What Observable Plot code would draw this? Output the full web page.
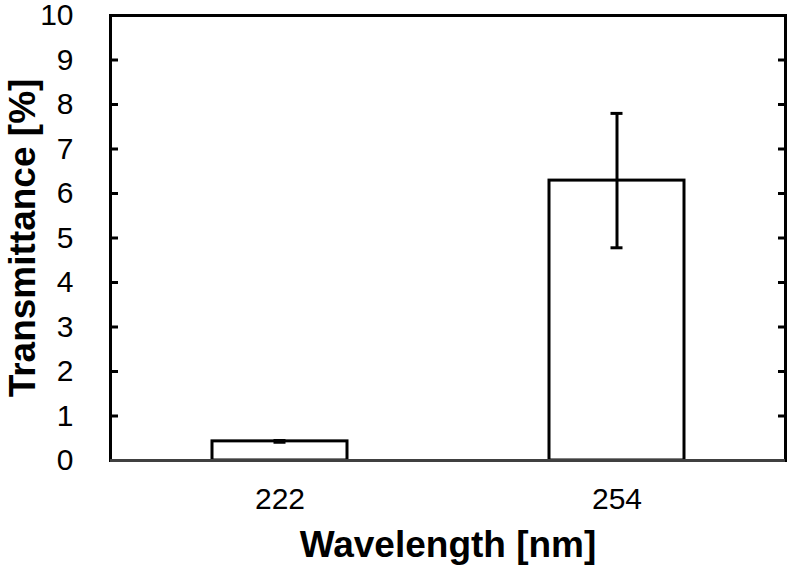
<!DOCTYPE html>
<html>
<head>
<meta charset="utf-8">
<script src="https://cdn.jsdelivr.net/npm/d3@7"></script>
<script src="https://cdn.jsdelivr.net/npm/@observablehq/plot@0.6"></script>
<style>
  html, body { margin: 0; padding: 0; background: #fff; }
  #chart svg { display: block; }
</style>
</head>
<body>
<div id="chart"></div>
<script>
const wavelengths = ["222", "254"];
const transmittance = [0.43, 6.29];
const errors = [0.02, 1.51];
const yTicks = [0, 1, 2, 3, 4, 5, 6, 7, 8, 9, 10];
const xLabel = "Wavelength [nm]";
const yLabel = "Transmittance [%]";

const data = wavelengths.map((w, i) => ({
  w, v: transmittance[i], lo: transmittance[i] - errors[i], hi: transmittance[i] + errors[i]
}));

const font = "Arial, 'Liberation Sans', sans-serif";

const chart = Plot.plot({
  width: 790,
  height: 568,
  marginLeft: 110,
  marginRight: 5,
  marginTop: 15,
  marginBottom: 108,
  style: { fontFamily: font, color: "#000", background: "#fff" },
  x: { domain: wavelengths, paddingInner: 0.6, paddingOuter: 0.3, label: null },
  y: { domain: [0, 10], label: null },
  marks: [
    Plot.barY(data, { x: "w", y: "v", fill: "white", stroke: "black", strokeWidth: 3 }),
    Plot.ruleX(data, { x: "w", y1: "lo", y2: "hi", stroke: "black", strokeWidth: 3 }),
    Plot.tickY(data, { x: "w", y: "lo", stroke: "black", strokeWidth: 3, insetLeft: 61.5, insetRight: 61.5 }),
    Plot.tickY(data, { x: "w", y: "hi", stroke: "black", strokeWidth: 3, insetLeft: 61.5, insetRight: 61.5 }),
    Plot.axisY(yTicks, { anchor: "left", tickSize: 0, tickPadding: 30, dx: -7, fontSize: 30, label: null }),
    Plot.axisY(yTicks, { anchor: "left", tickSize: -8, text: null, strokeWidth: 3, label: null }),
    Plot.axisY(yTicks, { anchor: "right", tickSize: -8, text: null, strokeWidth: 3, label: null }),
    Plot.axisX({ anchor: "bottom", tickSize: 0, tickPadding: 27, fontSize: 30, label: null }),
    Plot.frame({ stroke: "black", strokeWidth: 3 }),
    Plot.ruleY([0], { stroke: "#404040", strokeWidth: 3 }),
    Plot.text([yLabel], { frameAnchor: "left", textAnchor: "middle", rotate: -90, dx: -87, fontSize: 37, fontWeight: "bold", fill: "black" }),
    Plot.text([xLabel], { frameAnchor: "bottom", textAnchor: "middle", dy: 96, fontSize: 37, fontWeight: "bold", fill: "black" })
  ]
});

document.getElementById("chart").appendChild(chart);
</script>
</body>
</html>
